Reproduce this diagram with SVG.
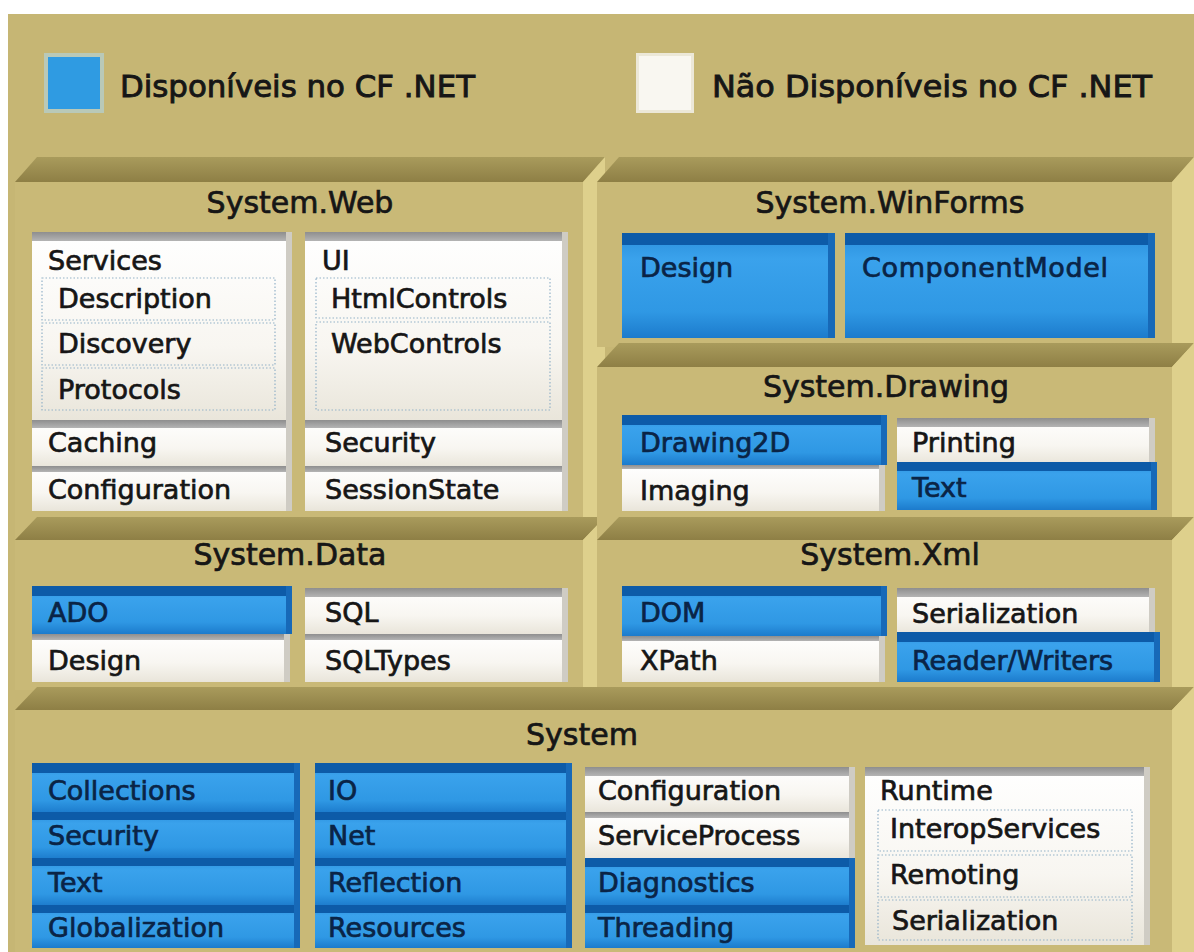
<svg xmlns="http://www.w3.org/2000/svg" width="1194" height="952" viewBox="0 0 1194 952">
<defs>
<linearGradient id="gBand" x1="0" y1="0" x2="0" y2="1"><stop offset="0" stop-color="#a99b5c"/><stop offset="1" stop-color="#8e7f45"/></linearGradient>
<linearGradient id="gW" x1="0" y1="0" x2="0" y2="1"><stop offset="0" stop-color="#ffffff"/><stop offset="0.6" stop-color="#f8f6f1"/><stop offset="1" stop-color="#e9e5da"/></linearGradient>
<linearGradient id="gWB" x1="0" y1="0" x2="0" y2="1"><stop offset="0" stop-color="#8e8e8e"/><stop offset="1" stop-color="#b4b4b4"/></linearGradient>
<linearGradient id="gB" x1="0" y1="0" x2="0" y2="1"><stop offset="0" stop-color="#2a8fdc"/><stop offset="0.25" stop-color="#3aa2ec"/><stop offset="0.75" stop-color="#2f98e4"/><stop offset="1" stop-color="#1c7bcc"/></linearGradient>
<style>
.page{fill:#ffffff}
.bg{fill:#c6b674}
.band{fill:url(#gBand)}
.front{fill:#c9b977}
.side{fill:#ded08c}
.wf{fill:url(#gW)}
.wb{fill:url(#gWB)}
.ws{fill:#cfccc4}
.bf{fill:url(#gB)}
.bb{fill:#0d5ba8}
.bs{fill:#1769b8}
.dot{fill:none;stroke:#93b2c8;stroke-width:1.2;stroke-dasharray:1.5 2}
text{font-family:"DejaVu Sans",Verdana,sans-serif;font-size:27px;fill:#161616;stroke:#161616;stroke-width:0.7}
.tb{fill:#0a2446;stroke:#0a2446}
.title{font-size:30px;text-anchor:middle}
.leg{font-size:30px;stroke-width:0.9}
</style>
</defs>
<rect class="page" x="0" y="0" width="1194" height="952"/>
<rect class="bg" x="8" y="14" width="1186" height="938"/>

<g id="legend">
<rect x="44" y="53" width="60" height="60" fill="#b9c9b8"/>
<rect x="48" y="57" width="52" height="52" fill="#2f9be2"/>
<rect x="636" y="53" width="58" height="60" fill="#ece8d8"/>
<rect x="639" y="56" width="52" height="54" fill="#f9f7f1"/>
<text class="leg" x="120" y="97" textLength="355" lengthAdjust="spacingAndGlyphs">Disponíveis no CF .NET</text>
<text class="leg" x="712" y="97" textLength="440" lengthAdjust="spacingAndGlyphs">Não Disponíveis no CF .NET</text>
</g>

<g id="system-web">
<polygon class="band" points="15,182 37,157 605,157 583,182"/>
<polygon class="side" points="583,182 605,157 605,540 583,540"/>
<rect class="front" x="15" y="182" width="568" height="358"/>
<text class="title" x="300" y="213">System.Web</text>
<rect class="wf" x="32" y="232" width="260" height="190"/><rect class="wb" x="32" y="232" width="260" height="9"/><rect class="ws" x="286" y="232" width="6" height="190"/>
<text x="48" y="270">Services</text>
<rect class="dot" x="42" y="278" width="233" height="42"/><text x="58" y="308">Description</text>
<rect class="dot" x="42" y="323" width="233" height="42"/><text x="58" y="353">Discovery</text>
<rect class="dot" x="42" y="368" width="233" height="42"/><text x="58" y="399">Protocols</text>
<rect class="wf" x="305" y="232" width="263" height="190"/><rect class="wb" x="305" y="232" width="263" height="9"/><rect class="ws" x="562" y="232" width="6" height="190"/>
<text x="322" y="270">UI</text>
<rect class="dot" x="316" y="278" width="234" height="40"/><text x="331" y="308">HtmlControls</text>
<rect class="dot" x="316" y="322" width="234" height="88"/><text x="331" y="353">WebControls</text>
<rect class="wf" x="32" y="420" width="260" height="47"/><rect class="wb" x="32" y="420" width="260" height="8"/><rect class="ws" x="286" y="420" width="6" height="47"/>
<text x="48" y="452">Caching</text>
<rect class="wf" x="32" y="466" width="260" height="45"/><rect class="wb" x="32" y="466" width="260" height="6"/><rect class="ws" x="286" y="466" width="6" height="45"/>
<text x="48" y="499">Configuration</text>
<rect class="wf" x="305" y="420" width="263" height="47"/><rect class="wb" x="305" y="420" width="263" height="8"/><rect class="ws" x="562" y="420" width="6" height="47"/>
<text x="325" y="452">Security</text>
<rect class="wf" x="305" y="466" width="263" height="45"/><rect class="wb" x="305" y="466" width="263" height="6"/><rect class="ws" x="562" y="466" width="6" height="45"/>
<text x="325" y="499">SessionState</text>
</g>

<g id="system-data">
<polygon class="band" points="15,540 37,517 605,517 583,540"/>
<polygon class="side" points="583,540 605,517 605,710 583,710"/>
<rect class="front" x="15" y="540" width="568" height="150"/>
<text class="title" x="290" y="565">System.Data</text>
<rect class="bf" x="32" y="586" width="260" height="48"/><rect class="bb" x="32" y="586" width="260" height="10"/><rect class="bs" x="286" y="586" width="6" height="48"/>
<text class="tb" x="48" y="622">ADO</text>
<rect class="wf" x="32" y="634" width="258" height="48"/><rect class="wb" x="32" y="634" width="258" height="6"/><rect class="ws" x="284" y="634" width="6" height="48"/>
<text x="48" y="670">Design</text>
<rect class="wf" x="305" y="588" width="263" height="46"/><rect class="wb" x="305" y="588" width="263" height="9"/><rect class="ws" x="562" y="588" width="6" height="46"/>
<text x="325" y="622">SQL</text>
<rect class="wf" x="305" y="634" width="263" height="48"/><rect class="wb" x="305" y="634" width="263" height="6"/><rect class="ws" x="562" y="634" width="6" height="48"/>
<text x="325" y="670">SQLTypes</text>
</g>

<g id="system-winforms">
<polygon class="band" points="597,182 619,157 1194,157 1172,182"/>
<polygon class="side" points="1172,182 1194,157 1194,367 1172,367"/>
<rect class="front" x="597" y="182" width="575" height="165"/>
<text class="title" x="890" y="213">System.WinForms</text>
<rect class="bf" x="622" y="233" width="213" height="105"/><rect class="bb" x="622" y="233" width="213" height="12"/><rect class="bs" x="828" y="233" width="7" height="105"/>
<text class="tb" x="640" y="277">Design</text>
<rect class="bf" x="845" y="233" width="310" height="105"/><rect class="bb" x="845" y="233" width="310" height="12"/><rect class="bs" x="1148" y="233" width="7" height="105"/>
<text class="tb" x="862" y="277" textLength="246">ComponentModel</text>
</g>

<g id="system-drawing">
<polygon class="band" points="597,367 619,343 1194,343 1172,367"/>
<polygon class="side" points="1172,367 1194,343 1194,540 1172,540"/>
<rect class="front" x="597" y="367" width="575" height="173"/>
<text class="title" x="886" y="397">System.Drawing</text>
<rect class="bf" x="622" y="415" width="265" height="50"/><rect class="bb" x="622" y="415" width="265" height="10"/><rect class="bs" x="881" y="415" width="6" height="50"/>
<text class="tb" x="640" y="452">Drawing2D</text>
<rect class="wf" x="622" y="465" width="263" height="46"/><rect class="wb" x="622" y="465" width="263" height="4"/><rect class="ws" x="879" y="465" width="6" height="46"/>
<text x="640" y="500">Imaging</text>
<rect class="wf" x="897" y="418" width="258" height="46"/><rect class="wb" x="897" y="418" width="258" height="9"/><rect class="ws" x="1149" y="418" width="6" height="46"/>
<text x="912" y="452">Printing</text>
<rect class="bf" x="897" y="462" width="260" height="48"/><rect class="bb" x="897" y="462" width="260" height="9"/><rect class="bs" x="1151" y="462" width="6" height="48"/>
<text class="tb" x="912" y="497">Text</text>
</g>

<g id="system-xml">
<polygon class="band" points="597,540 619,517 1194,517 1172,540"/>
<polygon class="side" points="1172,540 1194,517 1194,710 1172,710"/>
<rect class="front" x="597" y="540" width="575" height="150"/>
<text class="title" x="890" y="565">System.Xml</text>
<rect class="bf" x="622" y="586" width="265" height="50"/><rect class="bb" x="622" y="586" width="265" height="10"/><rect class="bs" x="881" y="586" width="6" height="50"/>
<text class="tb" x="640" y="622">DOM</text>
<rect class="wf" x="622" y="636" width="263" height="46"/><rect class="wb" x="622" y="636" width="263" height="5"/><rect class="ws" x="879" y="636" width="6" height="46"/>
<text x="640" y="670">XPath</text>
<rect class="wf" x="897" y="588" width="258" height="46"/><rect class="wb" x="897" y="588" width="258" height="9"/><rect class="ws" x="1149" y="588" width="6" height="46"/>
<text x="912" y="623">Serialization</text>
<rect class="bf" x="897" y="632" width="263" height="50"/><rect class="bb" x="897" y="632" width="263" height="10"/><rect class="bs" x="1154" y="632" width="6" height="50"/>
<text class="tb" x="912" y="670">Reader/Writers</text>
</g>

<g id="system">
<polygon class="band" points="15,710 37,687 1194,687 1172,710"/>
<polygon class="side" points="1172,710 1194,687 1194,952 1172,952"/>
<rect class="front" x="15" y="710" width="1157" height="242"/>
<text class="title" x="582" y="745">System</text>
<rect class="bf" x="32" y="763" width="268" height="50"/><rect class="bb" x="32" y="763" width="268" height="10"/><rect class="bs" x="294" y="763" width="6" height="50"/>
<text class="tb" x="48" y="800">Collections</text>
<rect class="bf" x="32" y="812" width="268" height="47"/><rect class="bb" x="32" y="812" width="268" height="8"/><rect class="bs" x="294" y="812" width="6" height="47"/>
<text class="tb" x="48" y="845">Security</text>
<rect class="bf" x="32" y="858" width="268" height="48"/><rect class="bb" x="32" y="858" width="268" height="8"/><rect class="bs" x="294" y="858" width="6" height="48"/>
<text class="tb" x="48" y="892">Text</text>
<rect class="bf" x="32" y="905" width="268" height="43"/><rect class="bb" x="32" y="905" width="268" height="8"/><rect class="bs" x="294" y="905" width="6" height="43"/>
<text class="tb" x="48" y="937">Globalization</text>

<rect class="bf" x="315" y="763" width="257" height="50"/><rect class="bb" x="315" y="763" width="257" height="10"/><rect class="bs" x="566" y="763" width="6" height="50"/>
<text class="tb" x="328" y="800">IO</text>
<rect class="bf" x="315" y="812" width="257" height="47"/><rect class="bb" x="315" y="812" width="257" height="8"/><rect class="bs" x="566" y="812" width="6" height="47"/>
<text class="tb" x="328" y="845">Net</text>
<rect class="bf" x="315" y="858" width="257" height="48"/><rect class="bb" x="315" y="858" width="257" height="8"/><rect class="bs" x="566" y="858" width="6" height="48"/>
<text class="tb" x="328" y="892">Reflection</text>
<rect class="bf" x="315" y="905" width="257" height="43"/><rect class="bb" x="315" y="905" width="257" height="8"/><rect class="bs" x="566" y="905" width="6" height="43"/>
<text class="tb" x="328" y="937">Resources</text>

<rect class="wf" x="585" y="767" width="270" height="46"/><rect class="wb" x="585" y="767" width="270" height="9"/><rect class="ws" x="849" y="767" width="6" height="46"/>
<text x="598" y="800">Configuration</text>
<rect class="wf" x="585" y="812" width="270" height="47"/><rect class="wb" x="585" y="812" width="270" height="6"/><rect class="ws" x="849" y="812" width="6" height="47"/>
<text x="598" y="845">ServiceProcess</text>
<rect class="bf" x="585" y="858" width="270" height="48"/><rect class="bb" x="585" y="858" width="270" height="9"/><rect class="bs" x="849" y="858" width="6" height="48"/>
<text class="tb" x="598" y="892">Diagnostics</text>
<rect class="bf" x="585" y="905" width="270" height="43"/><rect class="bb" x="585" y="905" width="270" height="8"/><rect class="bs" x="849" y="905" width="6" height="43"/>
<text class="tb" x="598" y="937">Threading</text>

<rect class="wf" x="865" y="767" width="285" height="178"/><rect class="wb" x="865" y="767" width="285" height="9"/><rect class="ws" x="1144" y="767" width="6" height="178"/>
<text x="880" y="800">Runtime</text>
<rect class="dot" x="878" y="810" width="254" height="41"/><text x="890" y="838">InteropServices</text>
<rect class="dot" x="878" y="855" width="254" height="42"/><text x="890" y="884">Remoting</text>
<rect class="dot" x="878" y="900" width="254" height="40"/><text x="892" y="930">Serialization</text>
</g>

<g id="connectors"/>
</svg>
